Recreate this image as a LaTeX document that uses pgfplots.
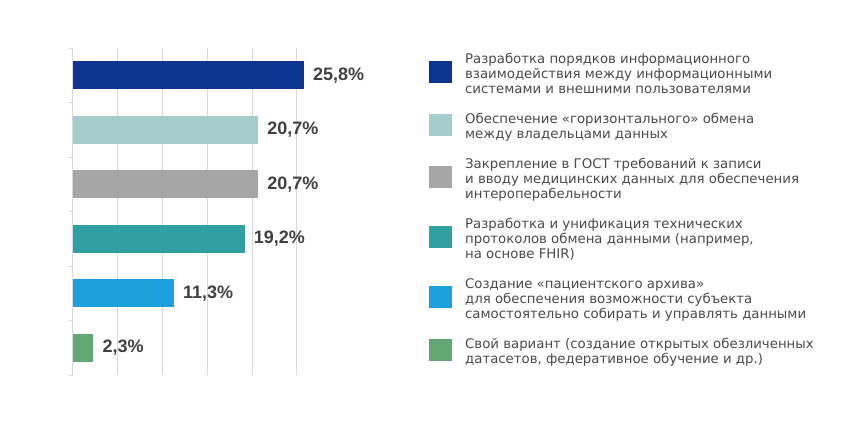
\documentclass[border=0pt]{standalone}
\usepackage{pgfplots}
\pgfplotsset{compat=1.18}
\usepackage{fontspec}
\setmainfont{DejaVu Sans}
\newfontfamily\valfont{Liberation Sans}
\definecolor{c1}{HTML}{0D3590}
\definecolor{c2}{HTML}{A5CDCC}
\definecolor{c3}{HTML}{A6A6A6}
\definecolor{c4}{HTML}{30A0A3}
\definecolor{c5}{HTML}{1EA0DD}
\definecolor{c6}{HTML}{62A874}
\definecolor{txt}{HTML}{404040}
\definecolor{txt2}{HTML}{4A4A4A}
\definecolor{grd}{HTML}{D9D9D9}
\pgfplotsset{
  mybar/.style={fill=#1, draw=none, bar shift=0pt,
    /pgfplots/legend image code/.code={\fill[fill=#1] (0bp,-11bp) rectangle (23bp,11bp);}},
}
% legend text block padding (text sits a little below the square's centre)
\newcommand{\tp}{\rule{0pt}{21bp}}
\newcommand{\bt}{\rule[-9bp]{0pt}{9bp}}
\begin{document}
\begin{tikzpicture}
\path[use as bounding box] (0,0) rectangle (853bp,428bp);
\begin{axis}[
  at={(72.7bp,53bp)}, anchor=south west,
  scale only axis, width=233bp, height=327bp,
  xbar, bar width=0.51,
  xmin=0, xmax=26, ymin=-0.5, ymax=5.5, y dir=reverse,
  axis lines*=left,
  x axis line style={draw=none},
  y axis line style={draw=grd, line width=0.8bp},
  xtick={5,10,15,20,25}, xticklabels={},
  xmajorgrids, grid style={draw=grd, line width=0.8bp},
  x tick style={draw=none},
  ytick={-0.5,0.5,...,5.5}, yticklabels={},
  y tick style={draw=grd, line width=0.8bp},
  tick align=outside, major tick length=4bp,
  clip=false,
  point meta=explicit symbolic,
  nodes near coords,
  every node near coord/.append style={font=\valfont\bfseries\fontsize{18bp}{18bp}\selectfont,
    text=txt, inner sep=0pt, anchor=west, xshift=9bp},
  legend style={at={(axis description cs:1.529,1.018)}, anchor=north west,
    draw=none, fill=none, inner sep=0pt, column sep=13bp,
    font=\fontsize{13.3bp}{15bp}\selectfont, text=txt2,
    nodes={inner sep=0pt, text depth=}, cells={anchor=west}},
]
\addplot[mybar=c1] coordinates {(25.8,0) [{25,8\%}]};
\addlegendentry{\begin{tabular}{@{}l@{}}\tp Разработка порядков информационного\\взаимодействия между информационными\\системами и внешними пользователями\bt\end{tabular}}
\addplot[mybar=c2] coordinates {(20.7,1) [{20,7\%}]};
\addlegendentry{\begin{tabular}{@{}l@{}}\tp Обеспечение «горизонтального» обмена\\между владельцами данных\bt\end{tabular}}
\addplot[mybar=c3] coordinates {(20.7,2) [{20,7\%}]};
\addlegendentry{\begin{tabular}{@{}l@{}}\tp Закрепление в ГОСТ требований к записи\\и вводу медицинских данных для обеспечения\\интероперабельности\bt\end{tabular}}
\addplot[mybar=c4] coordinates {(19.2,3) [{19,2\%}]};
\addlegendentry{\begin{tabular}{@{}l@{}}\tp Разработка и унификация технических\\протоколов обмена данными (например,\\на основе FHIR)\bt\end{tabular}}
\addplot[mybar=c5] coordinates {(11.3,4) [{11,3\%}]};
\addlegendentry{\begin{tabular}{@{}l@{}}\tp Создание «пациентского архива»\\для обеспечения возможности субъекта\\самостоятельно собирать и управлять данными\bt\end{tabular}}
\addplot[mybar=c6] coordinates {(2.3,5) [{2,3\%}]};
\addlegendentry{\begin{tabular}{@{}l@{}}\tp Свой вариант (создание открытых обезличенных\\датасетов, федеративное обучение и др.)\bt\end{tabular}}
\end{axis}
\end{tikzpicture}
\end{document}
